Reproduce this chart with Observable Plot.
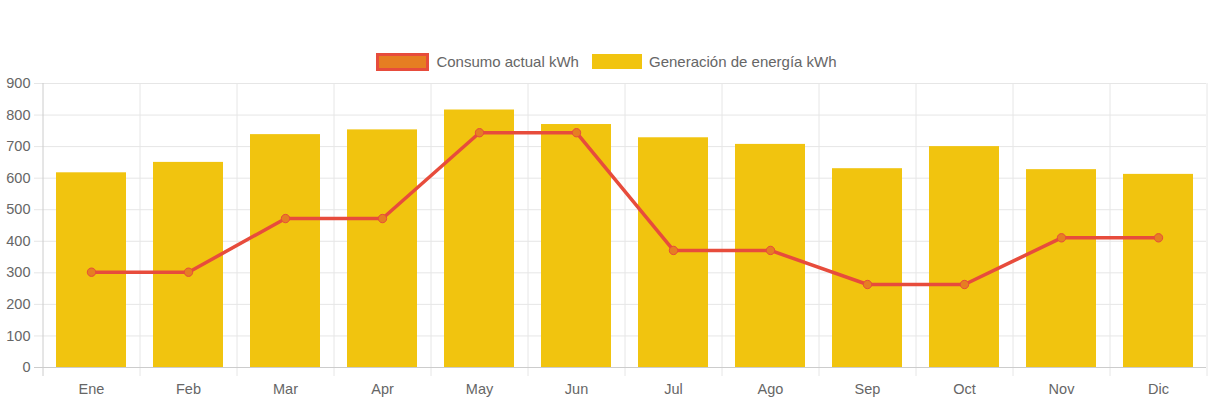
<!DOCTYPE html>
<html>
<head>
<meta charset="utf-8">
<script src="https://cdn.jsdelivr.net/npm/d3@7"></script>
<script src="https://cdn.jsdelivr.net/npm/@observablehq/plot@0.6"></script>
<style>
  html, body { margin: 0; padding: 0; background: #fff; overflow: hidden; }
  #legend {
    height: 70px; box-sizing: border-box; padding-top: 53px;
    display: flex; justify-content: center; align-items: center;
    font-family: "Liberation Sans", Arial, sans-serif; font-size: 15px; color: #666;
  }
  .item { display: flex; align-items: center; height: 18px; }
  .item + .item { margin-left: 13px; }
  .sw { box-sizing: border-box; margin-right: 7px; }
  #chart svg { display: block; overflow: visible; }
</style>
</head>
<body>
<div id="legend"></div>
<div id="chart"></div>
<script>
const months = ["Ene","Feb","Mar","Apr","May","Jun","Jul","Ago","Sep","Oct","Nov","Dic"];
const generacion = [617, 650, 738, 753, 816, 770, 728, 707, 630, 700, 627, 612];
const consumo = [302, 302, 472, 472, 744, 744, 371, 371, 263, 263, 411, 411];
const yTicks = [0, 100, 200, 300, 400, 500, 600, 700, 800, 900];
const seriesNames = ["Consumo actual kWh", "Generación de energía kWh"];

const rows = months.map((m, i) => ({mes: m, gen: generacion[i], con: consumo[i]}));

// legend
const legend = document.getElementById("legend");
const swatchStyles = [
  "width:53px;height:18px;background:#e67e22;border:3px solid #e74c3c;",
  "width:50px;height:15px;background:#f1c40f;border:1px solid #f1c40f;"
];
seriesNames.forEach((name, i) => {
  const item = document.createElement("div");
  item.className = "item";
  const sw = document.createElement("span");
  sw.className = "sw";
  sw.style.cssText = swatchStyles[i];
  const t = document.createElement("span");
  t.textContent = name;
  item.appendChild(sw); item.appendChild(t);
  legend.appendChild(item);
});

const W = 1213, mL = 42, mR = 7;
const step = (W - mL - mR) / months.length;
const grid = "#e6e6e6", axisLine = "#cccccc";

const chart = Plot.plot({
  width: W, height: 333,
  marginTop: 13, marginBottom: 36, marginLeft: mL, marginRight: mR,
  style: {fontFamily: "'Liberation Sans', Arial, sans-serif", fontSize: "14.5px", color: "#666", background: "white"},
  x: {type: "band", domain: months, paddingInner: 0.28, paddingOuter: 0.14, align: 0.5, label: null},
  y: {domain: [0, 900], label: null},
  marks: [
    Plot.ruleY(yTicks.filter(t => t > 0), {stroke: grid, insetLeft: -8}),
    Plot.ruleX(months.slice(1), {dx: -step / 2, stroke: grid, insetBottom: -9}),
    Plot.ruleX([months[months.length - 1]], {dx: step / 2, stroke: grid, insetBottom: -9}),
    Plot.barY(rows, {x: "mes", y: "gen", fill: "#f1c40f"}),
    Plot.ruleY([0], {stroke: axisLine, insetLeft: -8}),
    Plot.ruleX([months[0]], {dx: -step / 2, stroke: axisLine, insetBottom: -9}),
    Plot.line(rows, {x: "mes", y: "con", stroke: "#e74c3c", strokeWidth: 3.5}),
    Plot.dot(rows, {x: "mes", y: "con", r: 4.2, fill: "#e67e22", stroke: "#e74c3c", strokeWidth: 1}),
    Plot.axisY({ticks: yTicks, tickSize: 0, tickPadding: 12, tickFormat: d => String(d)}),
    Plot.axisX({tickSize: 0, tickPadding: 16})
  ]
});
document.getElementById("chart").appendChild(chart);
</script>
</body>
</html>
